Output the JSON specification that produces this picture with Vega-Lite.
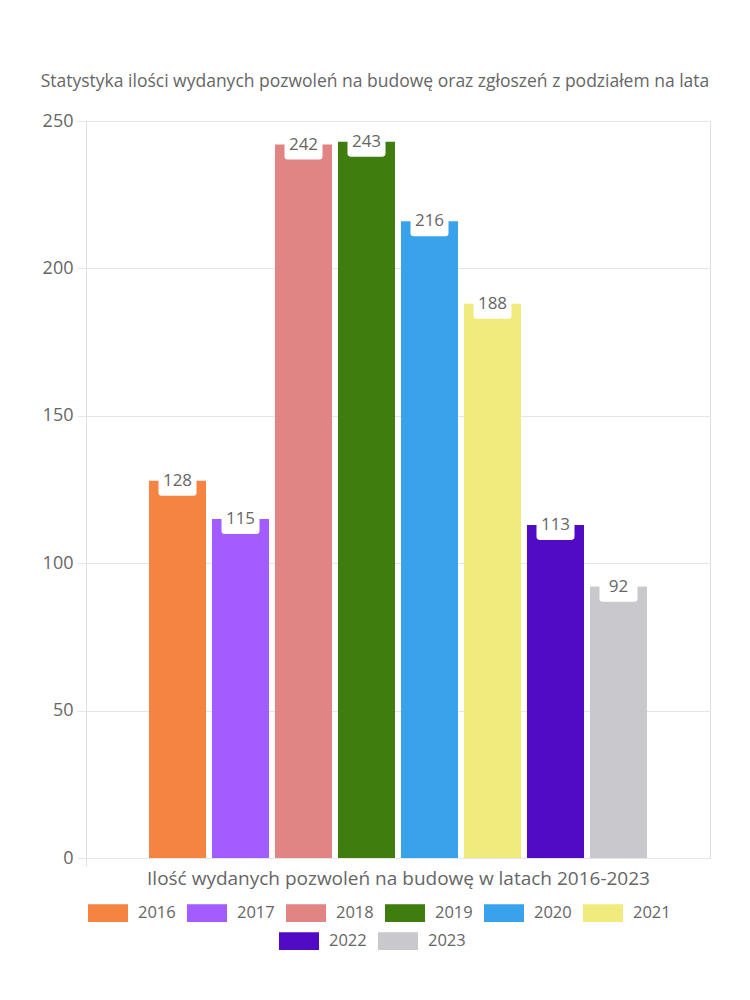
{
  "$schema": "https://vega.github.io/schema/vega-lite/v6.json",
  "width": 624,
  "height": 737,
  "autosize": {"type": "none"},
  "padding": {"left": 86, "top": 121, "right": 40, "bottom": 142},
  "background": "white",
  "title": {
    "text": "Statystyka ilości wydanych pozwoleń na budowę oraz zgłoszeń z podziałem na lata",
    "font": "Open Sans",
    "fontSize": 17.5,
    "fontWeight": "normal",
    "color": "#666666",
    "anchor": "middle",
    "dx": -23,
    "offset": 22
  },
  "data": {
    "values": [
      {"cat": "Ilość wydanych pozwoleń na budowę w latach 2016-2023", "year": "2016", "value": 128},
      {"cat": "Ilość wydanych pozwoleń na budowę w latach 2016-2023", "year": "2017", "value": 115},
      {"cat": "Ilość wydanych pozwoleń na budowę w latach 2016-2023", "year": "2018", "value": 242},
      {"cat": "Ilość wydanych pozwoleń na budowę w latach 2016-2023", "year": "2019", "value": 243},
      {"cat": "Ilość wydanych pozwoleń na budowę w latach 2016-2023", "year": "2020", "value": 216},
      {"cat": "Ilość wydanych pozwoleń na budowę w latach 2016-2023", "year": "2021", "value": 188},
      {"cat": "Ilość wydanych pozwoleń na budowę w latach 2016-2023", "year": "2022", "value": 113},
      {"cat": "Ilość wydanych pozwoleń na budowę w latach 2016-2023", "year": "2023", "value": 92}
    ]
  },
  "encoding": {
    "x": {
      "field": "cat",
      "type": "nominal",
      "scale": {"paddingInner": 0, "paddingOuter": 0},
      "axis": {
        "labels": false,
        "title": "Ilość wydanych pozwoleń na budowę w latach 2016-2023",
        "titleFont": "Open Sans",
        "titleFontSize": 19,
        "titleFontWeight": "normal",
        "titleColor": "#666666",
        "titlePadding": 3,
        "domain": false,
        "ticks": true,
        "tickSize": 8,
        "tickColor": "#e0e0e0",
        "bandPosition": 0,
        "grid": false
      }
    },
    "xOffset": {
      "field": "year",
      "type": "nominal",
      "scale": {"paddingInner": 0.095, "paddingOuter": 1.07}
    },
    "y": {
      "field": "value",
      "type": "quantitative",
      "scale": {"domain": [0, 250], "nice": false},
      "axis": {
        "values": [0, 50, 100, 150, 200, 250],
        "title": null,
        "domain": false,
        "grid": true,
        "gridColor": "#e6e6e6",
        "tickColor": "#e6e6e6",
        "tickSize": 9,
        "labelPadding": 4,
        "labelFont": "Open Sans",
        "labelFontSize": 18,
        "labelColor": "#666666"
      }
    }
  },
  "layer": [
    {
      "mark": {"type": "bar"},
      "encoding": {
        "color": {
          "field": "year",
          "type": "nominal",
          "scale": {
            "domain": ["2016", "2017", "2018", "2019", "2020", "2021", "2022", "2023"],
            "range": ["#f58442", "#a35cff", "#e08484", "#3e7d0e", "#38a2eb", "#f0eb7c", "#520bc4", "#c9c9cd"]
          },
          "legend": {
            "values": ["2016", "2017", "2018", "2019", "2020", "2021"],
            "title": null,
            "orient": "none",
            "legendX": 2,
            "legendY": 772,
            "direction": "horizontal",
            "columns": 6
          }
        }
      }
    },
    {
      "transform": [{"filter": "datum.year == '2022' || datum.year == '2023'"}],
      "mark": {"type": "bar"},
      "encoding": {
        "fill": {
          "field": "year",
          "type": "nominal",
          "scale": {"domain": ["2022", "2023"], "range": ["#520bc4", "#c9c9cd"]},
          "legend": {
            "title": null,
            "orient": "none",
            "legendX": 193,
            "legendY": 800,
            "direction": "horizontal",
            "columns": 2
          }
        }
      }
    },
    {
      "mark": {
        "type": "point",
        "filled": true,
        "fill": "white",
        "opacity": 1,
        "strokeWidth": 0,
        "size": 1444,
        "shape": "M-1,-0.6H1V0.63Q1,0.79 0.84,0.79H-0.84Q-1,0.79 -1,0.63Z"
      }
    },
    {
      "mark": {
        "type": "text",
        "baseline": "middle",
        "align": "center",
        "font": "Open Sans",
        "fontSize": 17,
        "color": "#666666"
      },
      "encoding": {"text": {"field": "value", "type": "quantitative"}}
    }
  ],
  "config": {
    "view": {"stroke": "#e0e0e0"},
    "legend": {
      "symbolType": "M-1,-0.44H1V0.44H-1Z",
      "symbolSize": 1600,
      "symbolStrokeWidth": 0,
      "symbolOpacity": 1,
      "labelFont": "Open Sans",
      "labelFontSize": 16.5,
      "labelColor": "#666666",
      "labelOffset": 10,
      "columnPadding": 11,
      "padding": 0
    }
  }
}
